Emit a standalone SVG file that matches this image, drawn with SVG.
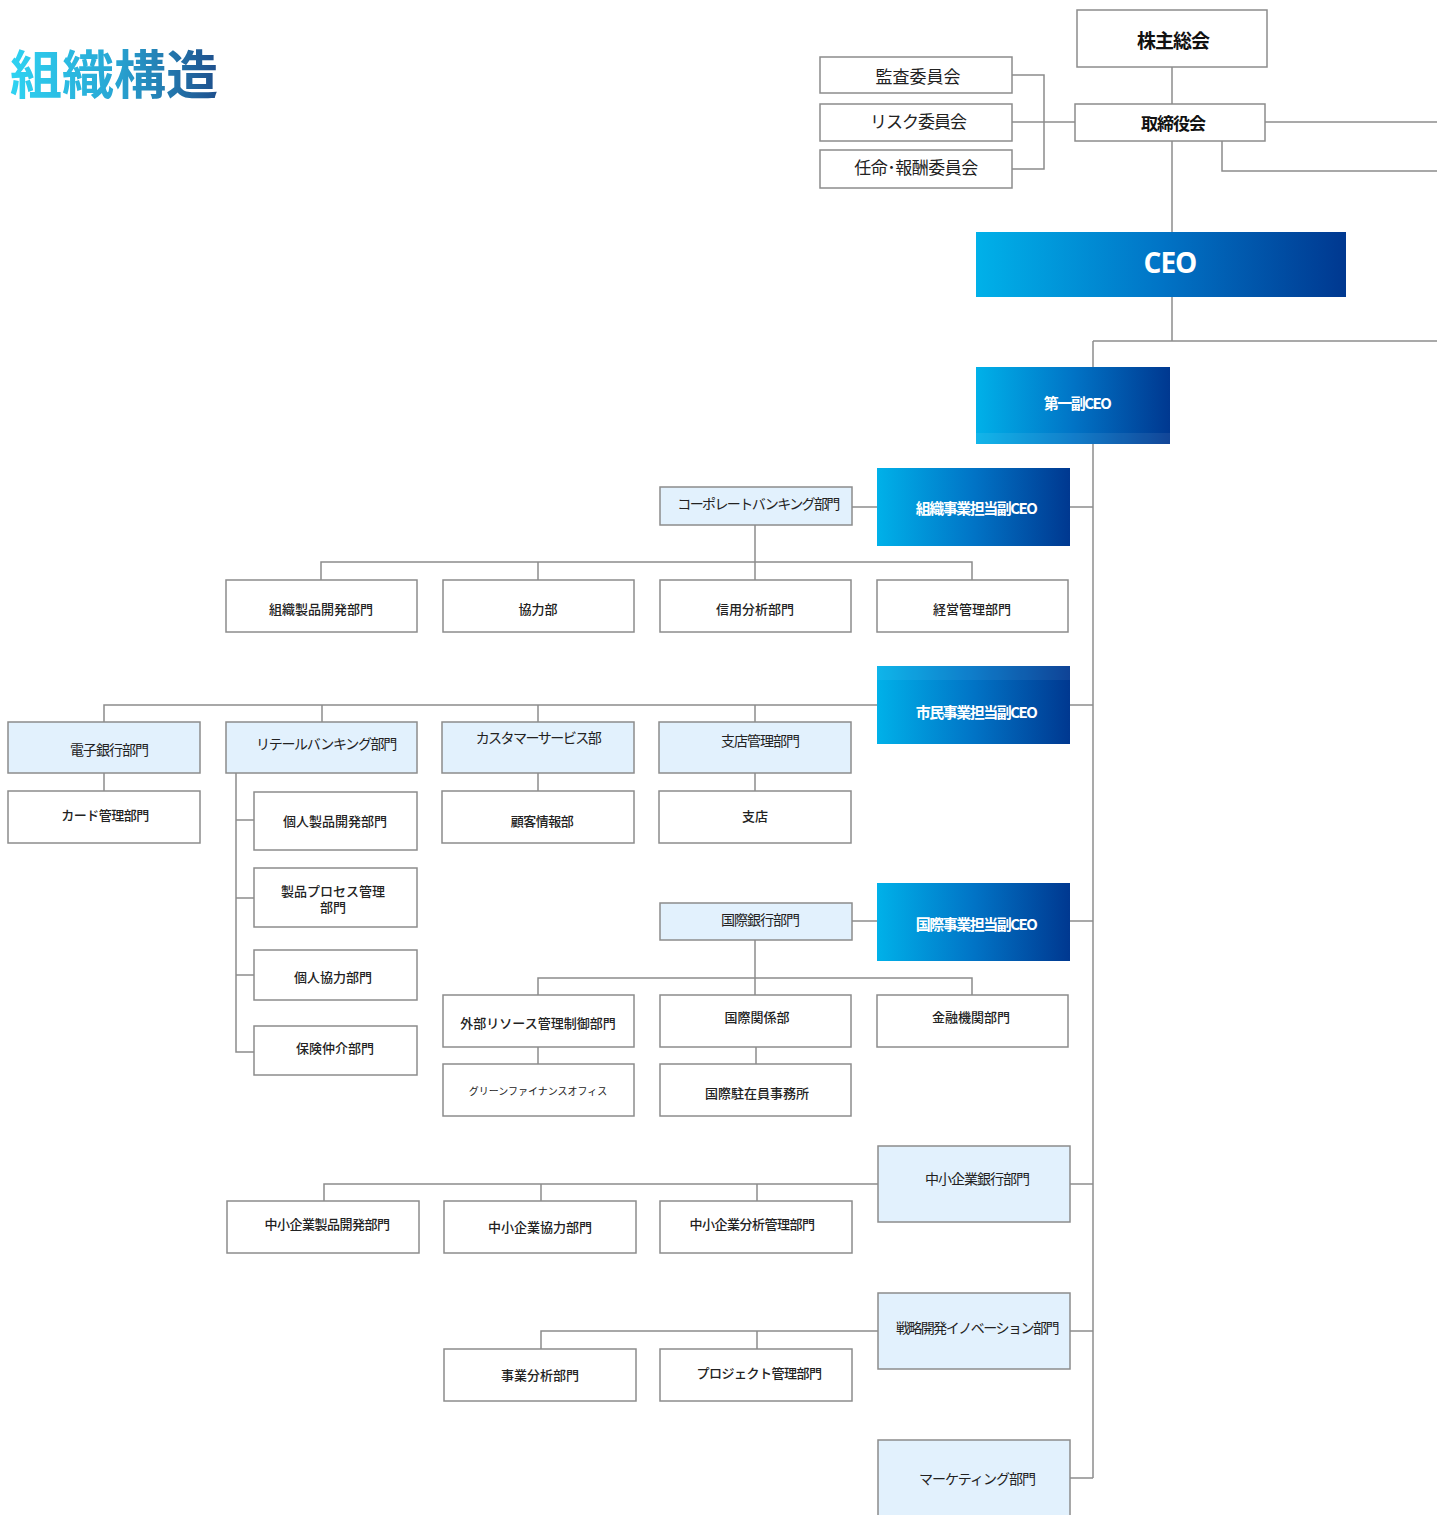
<svg xmlns="http://www.w3.org/2000/svg" width="1437" height="1515" viewBox="0 0 1437 1515">
<defs>
<linearGradient id="g" x1="0" y1="0" x2="1" y2="0">
<stop offset="0" stop-color="#00b1e9"/>
<stop offset="0.5" stop-color="#0174c6"/>
<stop offset="1" stop-color="#003890"/>
</linearGradient>
<linearGradient id="tg" x1="0" y1="0" x2="1" y2="0">
<stop offset="0" stop-color="#2fd3f2"/>
<stop offset="0.5" stop-color="#28a6d4"/>
<stop offset="1" stop-color="#1e4f8c"/>
</linearGradient>
<style>
.box{fill:#fff;stroke:#8c8c8c;stroke-width:1.5}
.lb{fill:#e2f1fd;stroke:#8c8c8c;stroke-width:1.5}
.gr{fill:url(#g)}
.conn{fill:none;stroke:#8c8c8c;stroke-width:1.5}
text{font-family:"Noto Sans CJK JP","Noto Sans",sans-serif;text-anchor:middle;dominant-baseline:central;fill:#222}
.s12{font-size:13px;font-weight:500}
.s14{font-size:14px;letter-spacing:-1px}
.s17{font-size:17px}
.w{fill:#fff;font-weight:700;font-size:15px;letter-spacing:-1.5px}
.b{font-weight:700;fill:#111}
</style>
</defs>
<text x="10" y="71" style="font-size:52px;font-weight:700;text-anchor:start;fill:url(#tg)">組織構造</text>
<g id="connectors">
<path class="conn" d="M1172 67V104"/>
<path class="conn" d="M1012 75H1044V169H1012"/>
<path class="conn" d="M1012 122H1075"/>
<path class="conn" d="M1265 122H1437"/>
<path class="conn" d="M1222 141V171H1437"/>
<path class="conn" d="M1172 141V232"/>
<path class="conn" d="M1172 297V341"/>
<path class="conn" d="M1093 341H1437"/>
<path class="conn" d="M1093 341V367"/>
<path class="conn" d="M1093 444V1478"/>
<path class="conn" d="M1070 507H1093"/>
<path class="conn" d="M852 507H877"/>
<path class="conn" d="M755 525V562"/>
<path class="conn" d="M321 580V562H972V580"/>
<path class="conn" d="M538 562V580"/>
<path class="conn" d="M755 562V580"/>
<path class="conn" d="M1070 705H1093"/>
<path class="conn" d="M104 722V705H877"/>
<path class="conn" d="M322 705V722"/>
<path class="conn" d="M538 705V722"/>
<path class="conn" d="M755 705V722"/>
<path class="conn" d="M104 773V791"/>
<path class="conn" d="M236 773V1052H254"/>
<path class="conn" d="M236 820H254"/>
<path class="conn" d="M236 898H254"/>
<path class="conn" d="M236 975H254"/>
<path class="conn" d="M538 773V791"/>
<path class="conn" d="M755 773V791"/>
<path class="conn" d="M1070 921H1093"/>
<path class="conn" d="M852 921H877"/>
<path class="conn" d="M755 940V995"/>
<path class="conn" d="M538 995V978H972V995"/>
<path class="conn" d="M538 1047V1064"/>
<path class="conn" d="M756 1047V1064"/>
<path class="conn" d="M1070 1184H1093"/>
<path class="conn" d="M324 1201V1184H878"/>
<path class="conn" d="M541 1184V1201"/>
<path class="conn" d="M757 1184V1201"/>
<path class="conn" d="M1070 1331H1093"/>
<path class="conn" d="M541 1349V1331H878"/>
<path class="conn" d="M757 1331V1349"/>
<path class="conn" d="M1070 1478H1093"/>
</g>
<g id="kabunushi"><rect class="box" x="1077" y="10" width="190" height="57"/><text class="b" x="1173" y="39" style="font-size:19px;letter-spacing:-1px">株主総会</text></g>
<g id="kansa"><rect class="box" x="820" y="57" width="192" height="36"/><text class="s17" x="918" y="75">監査委員会</text></g>
<g id="risk"><rect class="box" x="820" y="104" width="192" height="37"/><text class="s17" x="918" y="120" style="letter-spacing:-1px">リスク委員会</text></g>
<g id="ninmei"><rect class="box" x="820" y="150" width="192" height="38"/><text class="s17" x="916" y="166" style="letter-spacing:-0.5px">任命･報酬委員会</text></g>
<g id="torishimariyaku"><rect class="box" x="1075" y="104" width="190" height="37"/><text class="b" x="1173" y="122" style="font-size:17px;letter-spacing:-1px">取締役会</text></g>
<g id="ceo"><rect class="gr" x="976" y="232" width="370" height="65"/><text x="1170" y="262" style="fill:#fff;font-weight:700;font-size:28px;font-family:'Open Sans','Noto Sans',sans-serif;letter-spacing:-1px">CEO</text></g>
<g id="dai1"><rect class="gr" x="976" y="367" width="194" height="77"/><rect x="976" y="433" width="194" height="11" fill="#fff" opacity="0.07"/><text class="w" x="1077" y="402">第一副CEO</text></g>
<g id="soshiki-vp"><rect class="gr" x="877" y="468" width="193" height="78"/><text class="w" x="976" y="507">組織事業担当副CEO</text></g>
<g id="corporate"><rect class="lb" x="660" y="487" width="192" height="38"/><text class="s14" x="758" y="503" style="letter-spacing:-1.6px">コーポレートバンキング部門</text></g>
<g id="soshiki-seihin"><rect class="box" x="226" y="580" width="191" height="52"/><text class="s12" x="321" y="608">組織製品開発部門</text></g>
<g id="kyoryoku"><rect class="box" x="443" y="580" width="191" height="52"/><text class="s12" x="538" y="608">協力部</text></g>
<g id="shinyo"><rect class="box" x="660" y="580" width="191" height="52"/><text class="s12" x="755" y="608">信用分析部門</text></g>
<g id="keiei"><rect class="box" x="877" y="580" width="191" height="52"/><text class="s12" x="972" y="608">経営管理部門</text></g>
<g id="shimin-vp"><rect class="gr" x="877" y="666" width="193" height="78"/><rect x="877" y="666" width="193" height="14" fill="#fff" opacity="0.06"/><text class="w" x="976" y="711">市民事業担当副CEO</text></g>
<g id="denshi"><rect class="lb" x="8" y="722" width="192" height="51"/><text class="s14" x="109" y="749">電子銀行部門</text></g>
<g id="retail"><rect class="lb" x="226" y="722" width="191" height="51"/><text class="s14" x="326" y="743" style="letter-spacing:-1.3px">リテールバンキング部門</text></g>
<g id="customer"><rect class="lb" x="442" y="722" width="192" height="51"/><text class="s14" x="538" y="737" style="letter-spacing:-1.5px">カスタマーサービス部</text></g>
<g id="shiten-kanri"><rect class="lb" x="659" y="722" width="192" height="51"/><text class="s14" x="760" y="740">支店管理部門</text></g>
<g id="card"><rect class="box" x="8" y="791" width="192" height="52"/><text class="s12" x="105" y="814" style="letter-spacing:-0.5px">カード管理部門</text></g>
<g id="kojin-seihin"><rect class="box" x="254" y="792" width="163" height="58"/><text class="s12" x="335" y="820">個人製品開発部門</text></g>
<g id="process"><rect class="box" x="254" y="868" width="163" height="59"/><text class="s12" x="333" y="890">製品プロセス管理</text><text class="s12" x="333" y="906">部門</text></g>
<g id="kojin-kyoryoku"><rect class="box" x="254" y="950" width="163" height="50"/><text class="s12" x="333" y="976">個人協力部門</text></g>
<g id="hoken"><rect class="box" x="254" y="1026" width="163" height="49"/><text class="s12" x="335" y="1047">保険仲介部門</text></g>
<g id="kokyaku"><rect class="box" x="442" y="791" width="192" height="52"/><text class="s12" x="542" y="820" style="letter-spacing:-0.5px">顧客情報部</text></g>
<g id="shiten"><rect class="box" x="659" y="791" width="192" height="52"/><text class="s12" x="755" y="815">支店</text></g>
<g id="kokusai-vp"><rect class="gr" x="877" y="883" width="193" height="78"/><text class="w" x="976" y="923">国際事業担当副CEO</text></g>
<g id="kokusai-ginko"><rect class="lb" x="660" y="903" width="192" height="37"/><text class="s14" x="760" y="919">国際銀行部門</text></g>
<g id="gaibu"><rect class="box" x="443" y="995" width="191" height="52"/><text class="s12" x="538" y="1022">外部リソース管理制御部門</text></g>
<g id="kokusai-kankei"><rect class="box" x="660" y="995" width="191" height="52"/><text class="s12" x="757" y="1016">国際関係部</text></g>
<g id="kinyu"><rect class="box" x="877" y="995" width="191" height="52"/><text class="s12" x="971" y="1016">金融機関部門</text></g>
<g id="green"><rect class="box" x="443" y="1064" width="191" height="52"/><text x="538" y="1090" style="font-size:10px">グリーンファイナンスオフィス</text></g>
<g id="chuzai"><rect class="box" x="660" y="1064" width="191" height="52"/><text class="s12" x="757" y="1092">国際駐在員事務所</text></g>
<g id="chusho-ginko"><rect class="lb" x="878" y="1146" width="192" height="76"/><text class="s14" x="977" y="1178">中小企業銀行部門</text></g>
<g id="chusho-seihin"><rect class="box" x="227" y="1201" width="192" height="52"/><text class="s12" x="327" y="1223" style="letter-spacing:-0.5px">中小企業製品開発部門</text></g>
<g id="chusho-kyoryoku"><rect class="box" x="444" y="1201" width="192" height="52"/><text class="s12" x="540" y="1226">中小企業協力部門</text></g>
<g id="chusho-bunseki"><rect class="box" x="660" y="1201" width="192" height="52"/><text class="s12" x="752" y="1223" style="letter-spacing:-0.5px">中小企業分析管理部門</text></g>
<g id="senryaku"><rect class="lb" x="878" y="1293" width="192" height="76"/><text class="s14" x="977" y="1327" style="letter-spacing:-1.5px">戦略開発イノベーション部門</text></g>
<g id="jigyo-bunseki"><rect class="box" x="444" y="1349" width="192" height="52"/><text class="s12" x="540" y="1374">事業分析部門</text></g>
<g id="project"><rect class="box" x="660" y="1349" width="192" height="52"/><text class="s12" x="759" y="1372" style="letter-spacing:-0.5px">プロジェクト管理部門</text></g>
<g id="marketing"><rect class="lb" x="878" y="1440" width="192" height="80"/><text class="s14" x="977" y="1478">マーケティング部門</text></g>
</svg>
